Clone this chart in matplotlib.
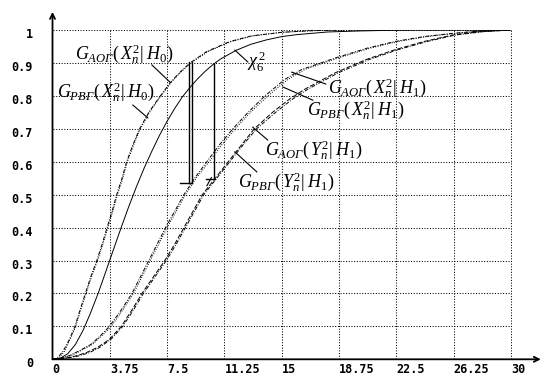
import matplotlib
matplotlib.use("Agg")
import matplotlib.pyplot as plt
from matplotlib.transforms import ScaledTranslation

plt.rcParams['mathtext.fontset'] = 'custom'
plt.rcParams['mathtext.it'] = 'Liberation Serif:italic'
plt.rcParams['mathtext.rm'] = 'Liberation Serif'
plt.rcParams['mathtext.bf'] = 'Liberation Serif:bold'

# ---- data ----
x_ticks = [0, 3.75, 7.5, 11.25, 15, 18.75, 22.5, 26.25, 30]
x_tick_labels = ['0', '3.75', '7.5', '11.25', '15', '18.75', '22.5', '26.25', '30']
y_ticks = [0, 0.1, 0.2, 0.3, 0.4, 0.5, 0.6, 0.7, 0.8, 0.9, 1.0]
y_tick_labels = ['0', '0.1', '0.2', '0.3', '0.4', '0.5', '0.6', '0.7', '0.8', '0.9', '1']

x_ao_h0 = [0, 0.3, 0.7, 1.1, 1.47, 1.8, 2.15, 2.5, 2.9, 3.25, 3.57, 3.9, 4.2, 4.55, 4.85, 5.25,
           5.7, 6.3, 6.9, 7.7, 8.3, 9.0, 10.1, 11.6, 13.0, 15.0, 17.0, 19.0, 22.0, 26.0, 30.0]
y_ao_h0 = [0, 0.003, 0.025, 0.06, 0.1, 0.15, 0.2, 0.25, 0.3, 0.35, 0.4, 0.45, 0.5, 0.55, 0.6, 0.65,
           0.7, 0.75, 0.79, 0.84, 0.87, 0.9, 0.935, 0.965, 0.982, 0.993, 0.998, 1.0, 1.0, 1.0, 1.0]
x_pb_h0 = [0, 0.4, 0.8, 1.15, 1.52, 1.85, 2.2, 2.55, 2.95, 3.3, 3.62, 3.95, 4.25, 4.6, 4.9, 5.3,
           5.75, 6.35, 6.95, 7.75, 8.35, 9.05, 10.2, 11.7, 13.1, 15.0, 17.0, 19.0, 22.0, 26.0, 30.0]
y_pb_h0 = y_ao_h0

x_chi6 = [0, 0.5, 1, 1.5, 2, 2.5, 3, 3.5, 4, 4.5, 5, 5.5, 6, 6.5, 7, 7.5, 8, 8.5, 9, 9.5, 10,
          10.5, 11, 12, 13, 14, 15, 16, 18, 20, 22, 24, 27, 30]
y_chi6 = [0, 0.003, 0.017, 0.045, 0.088, 0.142, 0.202, 0.268, 0.335, 0.401, 0.465, 0.525, 0.581,
          0.632, 0.68, 0.723, 0.762, 0.797, 0.826, 0.852, 0.875, 0.895, 0.912, 0.938, 0.957,
          0.970, 0.980, 0.986, 0.994, 0.997, 0.999, 1.0, 1.0, 1.0]

x_ao_h1x = [0, 0.5, 1.14, 1.8, 2.5, 3.1, 3.73, 4.5, 5.2, 5.75, 6.3, 6.85, 7.4, 8.0, 8.6, 9.3,
            10.1, 10.9, 11.8, 12.8, 13.9, 15.2, 16.3, 18.5, 20.6, 22.4, 24.3, 26.2, 28.0, 30.0]
y_ao_h1x = [0, 0.003, 0.012, 0.027, 0.045, 0.07, 0.1, 0.15, 0.2, 0.25, 0.3, 0.35, 0.4, 0.45, 0.5,
            0.55, 0.6, 0.65, 0.7, 0.75, 0.8, 0.85, 0.88, 0.915, 0.945, 0.965, 0.98, 0.99, 0.997, 1.0]
x_pb_h1x = [0, 0.6, 1.25, 1.9, 2.6, 3.2, 3.85, 4.6, 5.3, 5.85, 6.4, 6.95, 7.5, 8.1, 8.7, 9.4,
            10.25, 11.05, 11.95, 12.95, 14.1, 15.4, 16.5, 18.7, 20.8, 22.6, 24.5, 26.4, 28.2, 30.0]
y_pb_h1x = y_ao_h1x

x_ao_h1y = [0, 0.8, 1.5, 2.2, 2.9, 3.4, 3.75, 4.5, 5.2, 5.85, 6.6, 7.35, 8.0, 8.6, 9.2, 9.8,
            10.65, 11.5, 12.35, 13.2, 14.4, 15.5, 16.5, 18.5, 20.5, 22.4, 24.3, 26.2, 28.0, 30.0]
y_ao_h1y = [0, 0.003, 0.01, 0.02, 0.035, 0.05, 0.062, 0.1, 0.15, 0.2, 0.25, 0.3, 0.35, 0.4, 0.45,
            0.5, 0.55, 0.6, 0.65, 0.7, 0.75, 0.79, 0.82, 0.87, 0.91, 0.94, 0.965, 0.985, 0.995, 1.0]
x_pb_h1y = [0, 0.9, 1.7, 2.4, 3.05, 3.5, 3.85, 4.6, 5.3, 5.95, 6.7, 7.45, 8.1, 8.7, 9.3, 9.9,
            10.75, 11.6, 12.45, 13.35, 14.6, 15.7, 16.7, 18.7, 20.7, 22.6, 24.5, 26.4, 28.2, 30.0]
y_pb_h1y = y_ao_h1y

# threshold markers (x, y_bottom, y_top)
thr1_x = [8.94, 9.12]
thr1_y = [0.535, 0.903]
thr2_x = [10.56]
thr2_y = [0.547, 0.898]

# ---- figure ----
fig = plt.figure(figsize=(5.47, 3.79), dpi=100)
ax = fig.add_axes([52.5 / 547, (379 - 359.3) / 379, (511 - 52.5) / 547, (359.3 - 30) / 379])
ax.set_xlim(0, 30)
ax.set_ylim(0, 1)
for s in ax.spines.values():
    s.set_visible(False)

dot = (0, (1, 1.6))
# grid
ax.vlines(x_ticks[1:], 0, 1, colors='black', linestyles=[dot], lw=0.75, clip_on=False)
ax.hlines(y_ticks[1:], 0, 30, colors='black', linestyles=[dot], lw=0.75, clip_on=False)

# axes with arrows
ax.annotate('', xy=(31.95, 0), xytext=(0, 0), xycoords='data',
            arrowprops=dict(arrowstyle='->', lw=1.3, color='black', shrinkA=0, shrinkB=0,
                            mutation_scale=9), annotation_clip=False)
ax.annotate('', xy=(0, 1.055), xytext=(0, 0), xycoords='data',
            arrowprops=dict(arrowstyle='->', lw=1.3, color='black', shrinkA=0, shrinkB=0,
                            mutation_scale=9), annotation_clip=False)

# curves
lw = 0.7
ax.plot(x_ao_h0, y_ao_h0, color='black', lw=lw, ls=(0, (4, 1.5, 1, 1.5)))
ax.plot(x_pb_h0, y_pb_h0, color='black', lw=lw, ls=(0, (1, 1.5)))
ax.plot(x_chi6, y_chi6, color='black', lw=lw, ls='-')
ax.plot(x_ao_h1x, y_ao_h1x, color='black', lw=lw, ls=(0, (4, 1.5, 1, 1.5)))
ax.plot(x_pb_h1x, y_pb_h1x, color='black', lw=lw, ls=(0, (1, 1.5)))
ax.plot(x_ao_h1y, y_ao_h1y, color='black', lw=lw, ls=(0, (5, 2)))
ax.plot(x_pb_h1y, y_pb_h1y, color='black', lw=lw, ls=(0, (4, 1.5, 1, 1.5)))

# threshold markers
for xv in thr1_x:
    ax.plot([xv, xv], thr1_y, color='black', lw=1.0)
ax.plot([8.33, thr1_x[1]], [thr1_y[0], thr1_y[0]], color='black', lw=1.0)
ax.plot([thr2_x[0], thr2_x[0]], thr2_y, color='black', lw=1.0)
ax.plot([10.07, 10.62], [thr2_y[0], thr2_y[0]], color='black', lw=1.0)
ax.plot([10.1, 10.4], [thr2_y[0] - 0.02, thr2_y[0] + 0.005], color='black', lw=0.8)

# ticks
ax.set_xticks(x_ticks, x_tick_labels)
ax.set_yticks(y_ticks, y_tick_labels)
ax.tick_params(axis='both', length=0)
ax.tick_params(axis='x', pad=3)
ax.tick_params(axis='y', pad=14)
for lab in ax.get_xticklabels():
    lab.set_fontfamily('DejaVu Sans Mono')
    lab.set_fontweight('bold')
    lab.set_fontsize(8.5)
    lab.set_horizontalalignment('left')
for lab in ax.get_yticklabels():
    lab.set_fontfamily('DejaVu Sans Mono')
    lab.set_fontweight('bold')
    lab.set_fontsize(8.5)
    lab.set_transform(lab.get_transform() + ScaledTranslation(0, -3 / 100, fig.dpi_scale_trans))

# labels and pointers
fs = 13
labels = [
    (r'$G_{АОГ}(\,X_n^2|\;H_0)$', 1.47, 0.927, (6.5, 0.894), (7.68, 0.842)),
    (r'$G_{РВГ}(\,X_n^2|\;H_0)$', 0.29, 0.812, (5.26, 0.772), (6.24, 0.733)),
    (r'$\chi_6^{\,2}$', 12.75, 0.905, (12.78, 0.903), (11.93, 0.939)),
    (r'$G_{АОГ}(\,X_n^2|\;H_1)$', 18.03, 0.824, (17.88, 0.836), (15.65, 0.872)),
    (r'$G_{РВГ}(\,X_n^2|\;H_1)$', 16.63, 0.757, (17.03, 0.787), (15.07, 0.827)),
    (r'$G_{АОГ}(\,Y_n^2|\;H_1)$', 13.89, 0.636, (14.08, 0.666), (13.1, 0.705)),
    (r'$G_{РВГ}(\,Y_n^2|\;H_1)$', 12.12, 0.539, (13.37, 0.569), (11.93, 0.63)),
]
for txt, tx, ty, p0, p1 in labels:
    ax.text(tx, ty, txt, fontsize=fs, ha='left', va='center', color='black')
    ax.plot([p0[0], p1[0]], [p0[1], p1[1]], color='black', lw=0.8)

fig.savefig('out.png', dpi=100, facecolor='white')
